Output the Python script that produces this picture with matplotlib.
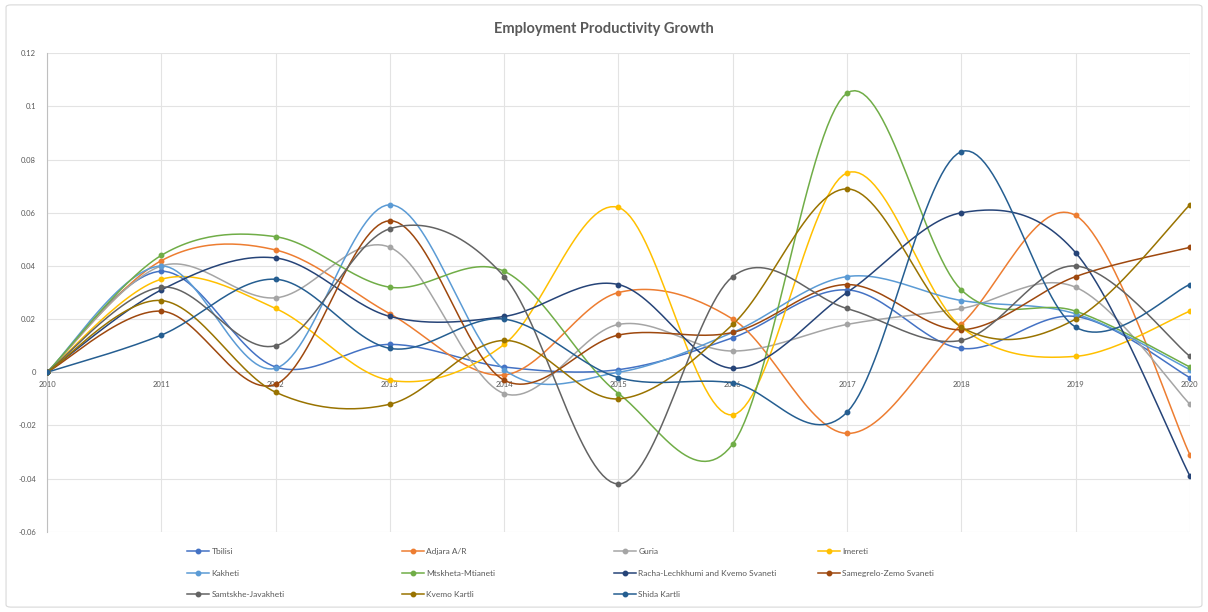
import numpy as np
import matplotlib.pyplot as plt
from matplotlib.patches import FancyBboxPatch

years = list(range(2010, 2021))

tbilisi = [0, 0.038, 0.002, 0.0105, 0.002, 0.001, 0.013, 0.031, 0.009, 0.021, -0.002]
adjara = [0, 0.042, 0.046, 0.022, -0.001, 0.030, 0.020, -0.023, 0.018, 0.059, -0.031]
guria = [0, 0.040, 0.028, 0.047, -0.008, 0.018, 0.008, 0.018, 0.024, 0.032, -0.012]
imereti = [0, 0.035, 0.024, -0.003, 0.0105, 0.062, -0.016, 0.075, 0.017, 0.006, 0.023]
kakheti = [0, 0.040, 0.0015, 0.063, 0.001, 0.000, 0.015, 0.036, 0.027, 0.022, 0.001]
mtskheta = [0, 0.044, 0.051, 0.032, 0.038, -0.008, -0.027, 0.105, 0.031, 0.023, 0.002]
racha = [0, 0.031, 0.043, 0.021, 0.021, 0.033, 0.0015, 0.030, 0.060, 0.045, -0.039]
samegrelo = [0, 0.023, -0.0045, 0.057, -0.003, 0.014, 0.015, 0.033, 0.016, 0.036, 0.047]
samtskhe = [0, 0.032, 0.010, 0.054, 0.036, -0.042, 0.036, 0.024, 0.012, 0.040, 0.006]
kvemo = [0, 0.027, -0.0075, -0.012, 0.012, -0.010, 0.018, 0.069, 0.017, 0.020, 0.063]
shida = [0, 0.014, 0.035, 0.009, 0.020, -0.002, -0.004, -0.015, 0.083, 0.017, 0.033]

regions = ["Tbilisi", "Adjara A/R", "Guria", "Imereti", "Kakheti", "Mtskheta-Mtianeti",
           "Racha-Lechkhumi and Kvemo Svaneti", "Samegrelo-Zemo Svaneti",
           "Samtskhe-Javakheti", "Kvemo Kartli", "Shida Kartli"]
series = [tbilisi, adjara, guria, imereti, kakheti, mtskheta, racha, samegrelo,
          samtskhe, kvemo, shida]
colors = ["#4472C4", "#ED7D31", "#A5A5A5", "#FFC000", "#5B9BD5", "#70AD47",
          "#264478", "#9E480E", "#636363", "#997300", "#255E91"]

yticks = [-0.06, -0.04, -0.02, 0, 0.02, 0.04, 0.06, 0.08, 0.1, 0.12]
ytick_labels = ["-0.06", "-0.04", "-0.02", "0", "0.02", "0.04", "0.06", "0.08", "0.1", "0.12"]

TXT = "#595959"
plt.rcParams['font.family'] = ['Lato', 'DejaVu Sans']


def smooth(xs, ys, steps=30):
    # bezier segments with catmull-rom style control points
    x = np.asarray(xs, float)
    y = np.asarray(ys, float)
    xp = np.concatenate([[x[0]], x, [x[-1]]])
    yp = np.concatenate([[y[0]], y, [y[-1]]])
    t = np.linspace(0, 1, steps)
    px, py = [], []
    for i in range(len(x) - 1):
        c1x = x[i] + (xp[i + 2] - xp[i]) / 6
        c1y = y[i] + (yp[i + 2] - yp[i]) / 6
        c2x = x[i + 1] - (xp[i + 3] - xp[i + 1]) / 6
        c2y = y[i + 1] - (yp[i + 3] - yp[i + 1]) / 6
        a, b, c, d = (1 - t) ** 3, 3 * (1 - t) ** 2 * t, 3 * (1 - t) * t ** 2, t ** 3
        px.append(a * x[i] + b * c1x + c * c2x + d * x[i + 1])
        py.append(a * y[i] + b * c1y + c * c2y + d * y[i + 1])
    return np.concatenate(px), np.concatenate(py)


fig = plt.figure(figsize=(12.08, 6.12), dpi=100)
fig.patches.append(FancyBboxPatch((0.005, 0.008), 0.99, 0.984, boxstyle="round,pad=0,rounding_size=0.004",
                                  transform=fig.transFigure, fill=False, edgecolor="#D9D9D9", lw=0.8))
ax = fig.add_axes([0.039, 0.131, 0.946, 0.782])

handles = []
for name, vals, col in zip(regions, series, colors):
    sx, sy = smooth(years, vals)
    ax.plot(sx, sy, color=col, lw=1.1, zorder=3)
    h, = ax.plot(years, vals, 'o', color=col, ms=3.2, zorder=4, label=name,
                 linestyle='-', lw=1.1)
    h.set_linestyle('None')
    handles.append((h, col, name))

ax.set_xlim(2010, 2020)
ax.set_ylim(-0.06, 0.12)
ax.set_xticks(years)
ax.set_xticklabels([str(y) for y in years])
ax.set_yticks(yticks)
ax.set_yticklabels(ytick_labels)
ax.grid(True, color="#E3E3E3", lw=0.8, zorder=0)
for s in ["top", "right"]:
    ax.spines[s].set_visible(False)
ax.spines["bottom"].set_position(("data", 0))
ax.spines["bottom"].set_color("#BFBFBF")
ax.spines["left"].set_color("#BFBFBF")
ax.tick_params(axis="both", length=0, labelsize=5.5, labelcolor=TXT)
ax.tick_params(axis="x", pad=6)
ax.tick_params(axis="y", pad=8)

fig.text(0.5, 0.952, "Employment Productivity Growth", ha="center", va="center",
         fontsize=10.5, fontweight="bold", color=TXT)

# legend laid out in four fixed-width columns, filled row by row
from matplotlib.lines import Line2D
col_x = [183, 398, 610, 814]
for c in range(4):
    idx = list(range(c, len(regions), 4))
    hs = [Line2D([], [], color=colors[i], lw=1.1, marker='o', ms=3.2) for i in idx]
    lb = [regions[i] for i in idx]
    leg = fig.legend(hs, lb, loc="upper left", bbox_to_anchor=(col_x[c] / 1208, 1 - 544 / 612),
                     frameon=False, fontsize=6, handlelength=2.6, handletextpad=0.3,
                     labelspacing=1.75, borderpad=0, labelcolor=TXT)

fig.savefig("out.png", dpi=100)
